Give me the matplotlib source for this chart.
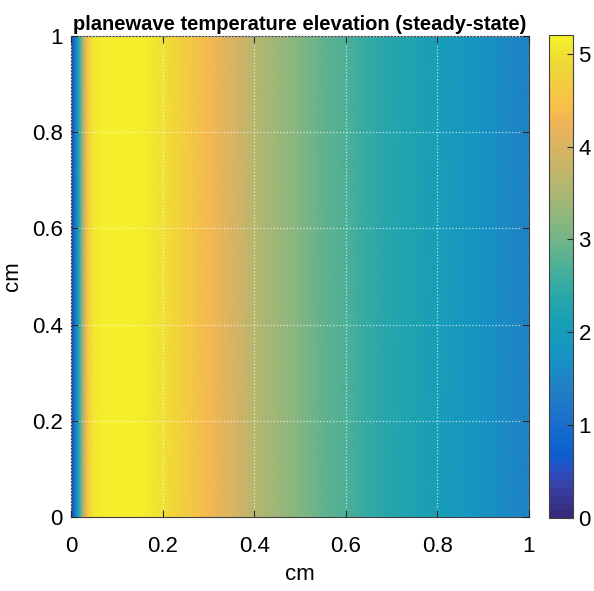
import numpy as np
import matplotlib.pyplot as plt
from matplotlib.colors import ListedColormap

# parula, 64 levels
parula_rgb = np.array([
    [0.2081, 0.1663, 0.5292], [0.2116, 0.1898, 0.5777], [0.2123, 0.2138, 0.6270],
    [0.2081, 0.2386, 0.6771], [0.1959, 0.2645, 0.7279], [0.1707, 0.2919, 0.7792],
    [0.1253, 0.3242, 0.8303], [0.0591, 0.3598, 0.8683], [0.0117, 0.3875, 0.8820],
    [0.0060, 0.4086, 0.8828], [0.0165, 0.4266, 0.8786], [0.0329, 0.4430, 0.8720],
    [0.0498, 0.4586, 0.8641], [0.0629, 0.4737, 0.8554], [0.0723, 0.4887, 0.8467],
    [0.0779, 0.5040, 0.8384], [0.0793, 0.5200, 0.8312], [0.0749, 0.5375, 0.8263],
    [0.0641, 0.5570, 0.8240], [0.0488, 0.5772, 0.8228], [0.0343, 0.5966, 0.8199],
    [0.0265, 0.6137, 0.8135], [0.0239, 0.6287, 0.8038], [0.0231, 0.6418, 0.7913],
    [0.0228, 0.6535, 0.7768], [0.0267, 0.6642, 0.7607], [0.0384, 0.6743, 0.7436],
    [0.0590, 0.6838, 0.7254], [0.0843, 0.6928, 0.7062], [0.1133, 0.7015, 0.6859],
    [0.1453, 0.7098, 0.6646], [0.1801, 0.7177, 0.6424], [0.2178, 0.7250, 0.6193],
    [0.2586, 0.7317, 0.5954], [0.3022, 0.7376, 0.5712], [0.3482, 0.7424, 0.5473],
    [0.3953, 0.7459, 0.5244], [0.4420, 0.7481, 0.5033], [0.4871, 0.7491, 0.4840],
    [0.5300, 0.7491, 0.4661], [0.5709, 0.7485, 0.4494], [0.6099, 0.7473, 0.4337],
    [0.6473, 0.7456, 0.4188], [0.6834, 0.7435, 0.4044], [0.7184, 0.7411, 0.3905],
    [0.7525, 0.7384, 0.3768], [0.7858, 0.7356, 0.3633], [0.8185, 0.7327, 0.3498],
    [0.8507, 0.7299, 0.3360], [0.8824, 0.7274, 0.3217], [0.9139, 0.7258, 0.3063],
    [0.9450, 0.7261, 0.2886], [0.9739, 0.7314, 0.2666], [0.9938, 0.7455, 0.2403],
    [0.9990, 0.7653, 0.2164], [0.9955, 0.7861, 0.1967], [0.9880, 0.8066, 0.1794],
    [0.9789, 0.8271, 0.1633], [0.9697, 0.8481, 0.1475], [0.9626, 0.8705, 0.1309],
    [0.9589, 0.8949, 0.1132], [0.9598, 0.9218, 0.0948], [0.9661, 0.9514, 0.0755],
    [0.9763, 0.9831, 0.0538]])
# slightly muted, as the exported figure renders it
luma = parula_rgb @ np.array([0.299, 0.587, 0.114])
muted = 0.86 * parula_rgb + 0.14 * luma[:, None]
muted[:, 1] *= 0.97
parula = ListedColormap(np.clip(muted, 0, 1))

# steady-state temperature rise along depth (cm), uniform across y
x_cm = [0.0, 0.005, 0.01, 0.015, 0.02, 0.025, 0.03, 0.035, 0.04, 0.05, 0.07,
        0.1, 0.15, 0.2, 0.25, 0.3, 0.35, 0.4, 0.45, 0.5, 0.55, 0.6, 0.65,
        0.7, 0.75, 0.8, 0.85, 0.9, 0.95, 1.0]
temp = [0.0, 0.7, 1.3, 1.9, 2.6, 3.3, 3.9, 4.4, 4.8, 5.05, 5.18,
        5.2, 5.15, 5.0, 4.7, 4.35, 4.0, 3.65, 3.35, 3.1, 2.9, 2.7, 2.5,
        2.35, 2.2, 2.05, 1.9, 1.75, 1.6, 1.45]
y_cm = [0.0, 1.0]

plt.rcParams['font.family'] = ['Liberation Sans', 'DejaVu Sans']

fig = plt.figure(figsize=(5.94, 5.91), dpi=100)
ax = fig.add_axes([0.1195, 0.1252, 0.771, 0.814])
cax = fig.add_axes([0.924, 0.1235, 0.0404, 0.817])

X, Y = np.meshgrid(x_cm, y_cm)
T = np.tile(temp, (len(y_cm), 1))
mesh = ax.pcolormesh(X, Y, T, cmap=parula, shading='gouraud',
                     vmin=0, vmax=max(temp))

ax.set_xlim(0, 1)
ax.set_ylim(0, 1)
ax.set_xticks([0, 0.2, 0.4, 0.6, 0.8, 1])
ax.set_yticks([0, 0.2, 0.4, 0.6, 0.8, 1])
ax.set_xticklabels(['0', '0.2', '0.4', '0.6', '0.8', '1'])
ax.set_yticklabels(['0', '0.2', '0.4', '0.6', '0.8', '1'])
ax.grid(True, color='white', linestyle=':', linewidth=0.9, alpha=0.7)
ax.set_axisbelow(False)
ax.tick_params(direction='in', length=5, width=0.8, colors='0.15',
               labelsize=16, labelcolor='black', top=True, right=True)
ax.tick_params(axis='x', pad=14)
ax.tick_params(axis='y', pad=6)
for s in ax.spines.values():
    s.set_color('0.25')
    s.set_linewidth(0.8)
ax.set_xlabel('cm', fontsize=16, labelpad=5)
ax.set_ylabel('cm', fontsize=16, labelpad=6)
ax.set_title('planewave temperature elevation (steady-state)',
             fontsize=14.5, fontweight='bold', pad=4)

cb = fig.colorbar(mesh, cax=cax, ticks=[0, 1, 2, 3, 4, 5])
cb.outline.set_edgecolor('0.25')
cb.outline.set_linewidth(0.8)
cax.tick_params(direction='in', length=4, width=0.8, colors='0.15',
                labelsize=16, labelcolor='black', pad=4)

fig.savefig('out.png', dpi=100)
